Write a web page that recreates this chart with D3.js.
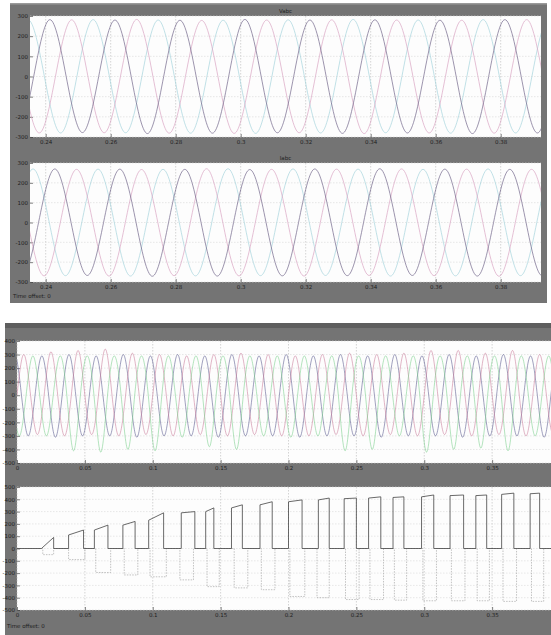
<!DOCTYPE html>
<html><head><meta charset="utf-8">
<script src="https://cdn.jsdelivr.net/npm/d3@7"></script>
<style>body{margin:0;background:#fff}svg{display:block}text{font-family:"DejaVu Sans",sans-serif}</style>
</head><body>
<svg id="c" width="551" height="635"></svg>
<script>
// ================= DATA =================
// --- top figure (two scope axes), time in ms ---
const topXTicks = [0.24,0.26,0.28,0.30,0.32,0.34,0.36,0.38];
const topXDomainMs = [235.17, 392.4];
const topYTicks = [-300,-200,-100,0,100,200,300];
const topYDomain = [-300, 300];
const topTitles = ["Vabc", "Iabc"];
// zero-crossing times (ms) and half-cycle peak values per phase
const t1ZerosA = [226.3,236.3,246.3,256.3,266.3,276.3,286.3,296.3,306.3,316.3,326.3,336.3,346.3,356.3,366.3,376.3,386.3,396.3];
const t1PeaksA = [-279,282,-278,280,-283,279,-281,283,-279,280,-282,281,-280,279,-283,282,-280];
const t1ZerosB = [233.0,243.0,253.0,263.0,273.0,283.0,293.0,303.0,313.0,323.0,333.0,343.0,353.0,363.0,373.0,383.0,393.0];
const t1PeaksB = [-280,281,-279,283,-281,278,-282,280,-279,281,-283,280,-280,279,-281,282];
const t1ZerosC = [229.6,239.6,249.6,259.6,269.6,279.6,289.6,299.6,309.6,319.6,329.6,339.6,349.6,359.6,369.6,379.6,389.6,399.6];
const t1PeaksC = [281,-280,282,-279,280,-281,279,-282,281,-280,283,-279,280,-281,282,-280,279];
const t2ZerosA = [227.8,237.8,247.8,257.8,267.8,277.8,287.8,297.8,307.8,317.8,327.8,337.8,347.8,357.8,367.8,377.8,387.8,397.8];
const t2PeaksA = [-268,270,-267,269,-271,268,-270,267,-269,270,-268,271,-267,269,-270,268,-269];
const t2ZerosB = [224.5,234.5,244.5,254.5,264.5,274.5,284.5,294.5,304.5,314.5,324.5,334.5,344.5,354.5,364.5,374.5,384.5,394.5];
const t2PeaksB = [268,-269,268,-270,267,-268,271,-269,268,-270,269,-267,270,-268,269,-271,268];
const t2ZerosC = [231.1,241.1,251.1,261.1,271.1,281.1,291.1,301.1,311.1,321.1,331.1,341.1,351.1,361.1,371.1,381.1,391.1,401.1];
const t2PeaksC = [270,-268,269,-270,268,-269,271,-268,270,-267,269,-270,268,-269,270,-268,269];
const topColors = ["#6d6287", "#d8a2c0", "#a3d2dc"];

// --- bottom figure ---
const botXTicks = [0,0.05,0.1,0.15,0.2,0.25,0.3,0.35];
const botXDomainMs = [0, 400];
const bot1YTicks = [-500,-400,-300,-200,-100,0,100,200,300,400];
const bot1YDomain = [-500, 400];
const bot2YTicks = [-500,-400,-300,-200,-100,0,100,200,300,400,500];
const bot2YDomain = [-500, 500];
// bottom plot 1: zero-crossing times (ms) and half-cycle peak values per phase
const b1ZerosA = [0,10,20,30,40,50,60,70,80,90,100,110,120,130,140,150,160,170,180,190,200,210,220,230,240,250,260,270,280,290,300,310,320,330,340,350,360,370,380,390,400];
const b1PeaksA = [300,-290,320,-300,330,-290,340,-300,310,-290,300,-300,290,-290,300,-300,310,-290,300,-300,290,-300,300,-290,310,-300,300,-290,310,-300,330,-290,330,-300,310,-290,330,-300,300,-290];
const b1ZerosB = [-3.3,6.7,16.7,26.7,36.7,46.7,56.7,66.7,76.7,86.7,96.7,106.7,116.7,126.7,136.7,146.7,156.7,166.7,176.7,186.7,196.7,206.7,216.7,226.7,236.7,246.7,256.7,266.7,276.7,286.7,296.7,306.7,316.7,326.7,336.7,346.7,356.7,366.7,376.7,386.7,396.7];
const b1PeaksB = [-300,290,-300,290,-410,290,-420,290,-400,290,-410,290,-310,290,-380,290,-400,290,-300,290,-310,290,-300,290,-410,290,-400,290,-300,290,-420,290,-400,290,-390,290,-410,290,-300,290];
const b1ZerosC = [-6.7,3.3,13.3,23.3,33.3,43.3,53.3,63.3,73.3,83.3,93.3,103.3,113.3,123.3,133.3,143.3,153.3,163.3,173.3,183.3,193.3,203.3,213.3,223.3,233.3,243.3,253.3,263.3,273.3,283.3,293.3,303.3,313.3,323.3,333.3,343.3,353.3,363.3,373.3,383.3,393.3,403.3];
const b1PeaksC = [300,-300,290,-310,300,-300,290,-300,300,-310,290,-300,300,-300,290,-310,300,-300,290,-300,300,-310,290,-300,300,-300,290,-310,300,-300,290,-300,300,-310,290,-300,300,-300,290,-310,300];
const b1Colors = ["#c97a98", "#79cf8a", "#56568c"];
// bottom plot 2: pulse start times (ms), widths (ms) and levels
const b2PosStart = [18,38,57,78,97,121,139,158,179,200,222,241,259,277,298,319,338,357,378];
const b2PosWidth = [9,11,10,9,11,10,6,8,9,10,8,9,9,8,9,10,8,9,7];
const b2PosLevel0 = [0,110,150,190,230,290,300,330,355,380,395,405,410,415,420,430,430,440,445];
const b2PosLevel1 = [90,150,190,220,290,300,330,355,380,395,410,410,420,420,435,435,435,450,450];
const b2NegStart = [19,38,58,79,98,120,140,160,180,201,221,242,260,278,299,320,339,358,379];
const b2NegWidth = [8,12,11,10,12,10,9,10,10,11,9,10,10,9,10,10,9,10,9];
const b2NegLevel = [-50,-90,-195,-215,-230,-255,-310,-320,-335,-390,-400,-415,-415,-420,-425,-425,-425,-430,-430];

// ================= DRAWING =================
const svg = d3.select("#c");
const fmt = d => String(d);

function panel(x, y, w, h) {
  svg.append("rect").attr("x", x).attr("y", y).attr("width", w).attr("height", h).attr("fill", "#747474");
}

function scopeAxes(o) {
  const g = svg.append("g");
  const x = d3.scaleLinear().domain(o.xDomain).range([o.x, o.x + o.w]);
  const xs = d3.scaleLinear().domain(o.xDomain.map(v => v / 1000)).range([o.x, o.x + o.w]);
  const y = d3.scaleLinear().domain(o.yDomain).range([o.y + o.h, o.y]);
  g.append("rect").attr("x", o.x).attr("y", o.y).attr("width", o.w).attr("height", o.h).attr("fill", "#fdfdfd");
  const id = "clip" + Math.round(o.y);
  svg.append("clipPath").attr("id", id).append("rect").attr("x", o.x).attr("y", o.y).attr("width", o.w).attr("height", o.h);
  g.append("g").selectAll("line").data(o.xTicks).join("line")
    .attr("x1", d => xs(d)).attr("x2", d => xs(d)).attr("y1", o.y).attr("y2", o.y + o.h)
    .attr("stroke", "#b8b8b8").attr("stroke-width", 0.6).attr("stroke-dasharray", "1.5,1.5");
  g.append("g").selectAll("line").data(o.yTicks).join("line")
    .attr("x1", o.x).attr("x2", o.x + o.w).attr("y1", d => y(d)).attr("y2", d => y(d))
    .attr("stroke", "#d8d8d8").attr("stroke-width", 0.6).attr("stroke-dasharray", "1.5,1.5");
  const ax = g.append("g").attr("transform", `translate(0,${o.y + o.h})`)
    .call(d3.axisBottom(xs).tickValues(o.xTicks).tickFormat(fmt).tickSize(-3).tickPadding(3));
  const ay = g.append("g").attr("transform", `translate(${o.x},0)`)
    .call(d3.axisLeft(y).tickValues(o.yTicks).tickFormat(fmt).tickSize(-3).tickPadding(2));
  [ax, ay].forEach(a => {
    a.select(".domain").remove();
    a.selectAll("line").attr("stroke", "#333").attr("stroke-width", 0.6);
    a.selectAll("text").attr("font-size", 5.5).attr("fill", "#1e1e1e");
  });
  if (o.title) svg.append("text").attr("x", o.x + o.w / 2).attr("y", o.y - 3).attr("text-anchor", "middle")
    .attr("font-size", 5.5).attr("fill", "#222").text(o.title);
  const plot = svg.append("g").attr("clip-path", `url(#${id})`);
  return { x, y, plot };
}

function sineKeys(zeros, peaks) {
  const pts = [];
  zeros.forEach((z, i) => {
    pts.push([z, 0]);
    if (i < peaks.length) pts.push([(z + zeros[i + 1]) / 2, peaks[i]]);
  });
  return pts;
}

// ---------- top figure ----------
panel(10, 3, 537, 300);
svg.append("rect").attr("x", 10).attr("y", 3).attr("width", 537).attr("height", 1.5).attr("fill", "#9a9a9a");
const topBoxes = [
  { y: 16, h: 121, phases: [[t1ZerosC, t1PeaksC, 2], [t1ZerosB, t1PeaksB, 1], [t1ZerosA, t1PeaksA, 0]], title: topTitles[0] },
  { y: 163, h: 119, phases: [[t2ZerosC, t2PeaksC, 2], [t2ZerosB, t2PeaksB, 1], [t2ZerosA, t2PeaksA, 0]], title: topTitles[1] }
];
topBoxes.forEach(b => {
  const a = scopeAxes({ x: 30, y: b.y, w: 511, h: b.h, xDomain: topXDomainMs, yDomain: topYDomain,
    xTicks: topXTicks, yTicks: topYTicks, title: b.title });
  const line = d3.line().x(d => a.x(d[0])).y(d => a.y(d[1])).curve(d3.curveNatural);
  b.phases.forEach(p => {
    a.plot.append("path").attr("d", line(sineKeys(p[0], p[1]))).attr("fill", "none")
      .attr("stroke", topColors[p[2]]).attr("stroke-width", 0.8).attr("stroke-opacity", 0.85);
  });
});
svg.append("text").attr("x", 13).attr("y", 298).attr("font-size", 5.5).attr("fill", "#1e1e1e").text("Time offset:  0");

// ---------- bottom figure ----------
panel(5, 323, 546, 312);
svg.append("rect").attr("x", 5).attr("y", 323).attr("width", 546).attr("height", 5).attr("fill", "#5e5e5e");

const b1 = scopeAxes({ x: 17, y: 341, w: 543, h: 122, xDomain: botXDomainMs, yDomain: bot1YDomain,
  xTicks: botXTicks, yTicks: bot1YTicks });
const l1 = d3.line().x(d => b1.x(d[0])).y(d => b1.y(d[1])).curve(d3.curveNatural);
[[b1ZerosC, b1PeaksC, 2], [b1ZerosA, b1PeaksA, 0], [b1ZerosB, b1PeaksB, 1]].forEach(zp => {
  b1.plot.append("path").attr("d", l1(sineKeys(zp[0], zp[1]))).attr("fill", "none")
    .attr("stroke", b1Colors[zp[2]]).attr("stroke-width", 0.8).attr("stroke-opacity", 0.7);
});

const b2 = scopeAxes({ x: 17, y: 487, w: 543, h: 123, xDomain: botXDomainMs, yDomain: bot2YDomain,
  xTicks: botXTicks, yTicks: bot2YTicks });
const l2 = d3.line().x(d => b2.x(d[0])).y(d => b2.y(d[1]));
const posPts = [[0, 0]];
b2PosStart.forEach((t, i) => {
  posPts.push([t, 0], [t, b2PosLevel0[i]], [t + b2PosWidth[i], b2PosLevel1[i]], [t + b2PosWidth[i], 0]);
});
posPts.push([400, 0]);
const negPts = [[0, 0]];
b2NegStart.forEach((t, i) => {
  negPts.push([t, 0], [t, b2NegLevel[i]], [t + b2NegWidth[i], b2NegLevel[i]], [t + b2NegWidth[i], 0]);
});
negPts.push([400, 0]);
b2.plot.append("path").attr("d", l2(negPts)).attr("fill", "none")
  .attr("stroke", "#9a9a9a").attr("stroke-width", 0.6).attr("stroke-dasharray", "1.5,1.2");
b2.plot.append("path").attr("d", l2(posPts)).attr("fill", "none")
  .attr("stroke", "#444").attr("stroke-width", 0.8);
svg.append("text").attr("x", 7).attr("y", 628).attr("font-size", 5.5).attr("fill", "#1e1e1e").text("Time offset:  0");
</script>
</body></html>
